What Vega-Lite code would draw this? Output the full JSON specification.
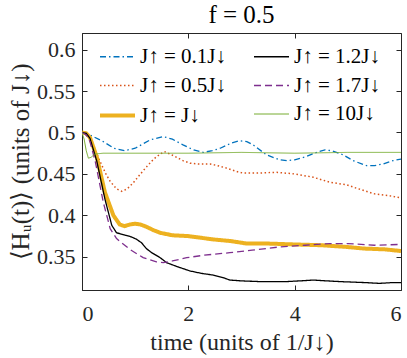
{
  "$schema": "https://vega.github.io/schema/vega-lite/v6.json",
  "width": 319,
  "height": 257,
  "autosize": "none",
  "padding": {"left": 82, "top": 33, "right": 6, "bottom": 68},
  "background": "white",
  "title": {"text": "f = 0.5", "font": "Liberation Serif", "fontSize": 25, "fontWeight": "normal", "color": "#000000", "offset": 5, "anchor": "middle"},
  "config": {
    "view": {"stroke": "#262626", "strokeWidth": 1},
    "axis": {"domainColor": "#262626", "tickColor": "#262626", "labelColor": "#262626", "titleColor": "#262626", "labelFont": "Liberation Serif", "titleFont": "Liberation Serif", "labelFontSize": 22, "titleFontWeight": "normal", "grid": false, "tickSize": -5, "labelPadding": 12}
  },
  "data": {"values": [
    {"s":"J↑ = 0.1J↓","t":0,"v":0.5},{"s":"J↑ = 0.1J↓","t":0.15,"v":0.497},{"s":"J↑ = 0.1J↓","t":0.4,"v":0.489},{"s":"J↑ = 0.1J↓","t":0.6,"v":0.481},{"s":"J↑ = 0.1J↓","t":0.8,"v":0.478},{"s":"J↑ = 0.1J↓","t":1.0,"v":0.481},{"s":"J↑ = 0.1J↓","t":1.28,"v":0.491},{"s":"J↑ = 0.1J↓","t":1.53,"v":0.495},{"s":"J↑ = 0.1J↓","t":1.7,"v":0.492},{"s":"J↑ = 0.1J↓","t":1.9,"v":0.485},{"s":"J↑ = 0.1J↓","t":2.1,"v":0.479},{"s":"J↑ = 0.1J↓","t":2.28,"v":0.476},{"s":"J↑ = 0.1J↓","t":2.45,"v":0.478},{"s":"J↑ = 0.1J↓","t":2.6,"v":0.481},{"s":"J↑ = 0.1J↓","t":2.8,"v":0.487},{"s":"J↑ = 0.1J↓","t":2.96,"v":0.49},{"s":"J↑ = 0.1J↓","t":3.1,"v":0.489},{"s":"J↑ = 0.1J↓","t":3.22,"v":0.485},{"s":"J↑ = 0.1J↓","t":3.47,"v":0.473},{"s":"J↑ = 0.1J↓","t":3.72,"v":0.467},{"s":"J↑ = 0.1J↓","t":3.85,"v":0.466},{"s":"J↑ = 0.1J↓","t":4.0,"v":0.467},{"s":"J↑ = 0.1J↓","t":4.22,"v":0.471},{"s":"J↑ = 0.1J↓","t":4.45,"v":0.477},{"s":"J↑ = 0.1J↓","t":4.57,"v":0.479},{"s":"J↑ = 0.1J↓","t":4.7,"v":0.478},{"s":"J↑ = 0.1J↓","t":4.91,"v":0.473},{"s":"J↑ = 0.1J↓","t":5.1,"v":0.466},{"s":"J↑ = 0.1J↓","t":5.35,"v":0.46},{"s":"J↑ = 0.1J↓","t":5.5,"v":0.46},{"s":"J↑ = 0.1J↓","t":5.66,"v":0.462},{"s":"J↑ = 0.1J↓","t":5.85,"v":0.466},{"s":"J↑ = 0.1J↓","t":6,"v":0.468},
    {"s":"J↑ = 0.5J↓","t":0,"v":0.5},{"s":"J↑ = 0.5J↓","t":0.1,"v":0.496},{"s":"J↑ = 0.5J↓","t":0.21,"v":0.485},{"s":"J↑ = 0.5J↓","t":0.34,"v":0.465},{"s":"J↑ = 0.5J↓","t":0.45,"v":0.45},{"s":"J↑ = 0.5J↓","t":0.53,"v":0.441},{"s":"J↑ = 0.5J↓","t":0.65,"v":0.432},{"s":"J↑ = 0.5J↓","t":0.75,"v":0.429},{"s":"J↑ = 0.5J↓","t":0.85,"v":0.432},{"s":"J↑ = 0.5J↓","t":0.96,"v":0.439},{"s":"J↑ = 0.5J↓","t":1.1,"v":0.45},{"s":"J↑ = 0.5J↓","t":1.22,"v":0.459},{"s":"J↑ = 0.5J↓","t":1.35,"v":0.468},{"s":"J↑ = 0.5J↓","t":1.47,"v":0.474},{"s":"J↑ = 0.5J↓","t":1.55,"v":0.477},{"s":"J↑ = 0.5J↓","t":1.72,"v":0.472},{"s":"J↑ = 0.5J↓","t":1.9,"v":0.466},{"s":"J↑ = 0.5J↓","t":2.03,"v":0.463},{"s":"J↑ = 0.5J↓","t":2.2,"v":0.462},{"s":"J↑ = 0.5J↓","t":2.41,"v":0.462},{"s":"J↑ = 0.5J↓","t":2.55,"v":0.46},{"s":"J↑ = 0.5J↓","t":2.72,"v":0.457},{"s":"J↑ = 0.5J↓","t":2.9,"v":0.453},{"s":"J↑ = 0.5J↓","t":3.03,"v":0.451},{"s":"J↑ = 0.5J↓","t":3.3,"v":0.451},{"s":"J↑ = 0.5J↓","t":3.66,"v":0.452},{"s":"J↑ = 0.5J↓","t":4.0,"v":0.45},{"s":"J↑ = 0.5J↓","t":4.35,"v":0.446},{"s":"J↑ = 0.5J↓","t":4.66,"v":0.44},{"s":"J↑ = 0.5J↓","t":4.97,"v":0.437},{"s":"J↑ = 0.5J↓","t":5.2,"v":0.432},{"s":"J↑ = 0.5J↓","t":5.5,"v":0.426},{"s":"J↑ = 0.5J↓","t":5.75,"v":0.424},{"s":"J↑ = 0.5J↓","t":6,"v":0.421},
    {"s":"J↑ = J↓","t":0,"v":0.5},{"s":"J↑ = J↓","t":0.08,"v":0.499},{"s":"J↑ = J↓","t":0.15,"v":0.494},{"s":"J↑ = J↓","t":0.28,"v":0.47},{"s":"J↑ = J↓","t":0.43,"v":0.428},{"s":"J↑ = J↓","t":0.59,"v":0.4},{"s":"J↑ = J↓","t":0.71,"v":0.389},{"s":"J↑ = J↓","t":0.8,"v":0.387},{"s":"J↑ = J↓","t":0.9,"v":0.389},{"s":"J↑ = J↓","t":1.0,"v":0.39},{"s":"J↑ = J↓","t":1.1,"v":0.389},{"s":"J↑ = J↓","t":1.22,"v":0.386},{"s":"J↑ = J↓","t":1.35,"v":0.382},{"s":"J↑ = J↓","t":1.47,"v":0.379},{"s":"J↑ = J↓","t":1.7,"v":0.376},{"s":"J↑ = J↓","t":2.0,"v":0.375},{"s":"J↑ = J↓","t":2.47,"v":0.371},{"s":"J↑ = J↓","t":2.8,"v":0.369},{"s":"J↑ = J↓","t":3.1,"v":0.366},{"s":"J↑ = J↓","t":3.5,"v":0.366},{"s":"J↑ = J↓","t":3.97,"v":0.365},{"s":"J↑ = J↓","t":4.5,"v":0.364},{"s":"J↑ = J↓","t":4.97,"v":0.362},{"s":"J↑ = J↓","t":5.3,"v":0.36},{"s":"J↑ = J↓","t":5.7,"v":0.359},{"s":"J↑ = J↓","t":6,"v":0.357},
    {"s":"J↑ = 1.2J↓","t":0,"v":0.5},{"s":"J↑ = 1.2J↓","t":0.08,"v":0.499},{"s":"J↑ = 1.2J↓","t":0.15,"v":0.493},{"s":"J↑ = 1.2J↓","t":0.28,"v":0.465},{"s":"J↑ = 1.2J↓","t":0.43,"v":0.42},{"s":"J↑ = 1.2J↓","t":0.56,"v":0.388},{"s":"J↑ = 1.2J↓","t":0.65,"v":0.379},{"s":"J↑ = 1.2J↓","t":0.71,"v":0.378},{"s":"J↑ = 1.2J↓","t":0.82,"v":0.376},{"s":"J↑ = 1.2J↓","t":0.93,"v":0.374},{"s":"J↑ = 1.2J↓","t":1.03,"v":0.371},{"s":"J↑ = 1.2J↓","t":1.12,"v":0.367},{"s":"J↑ = 1.2J↓","t":1.21,"v":0.36},{"s":"J↑ = 1.2J↓","t":1.31,"v":0.355},{"s":"J↑ = 1.2J↓","t":1.47,"v":0.349},{"s":"J↑ = 1.2J↓","t":1.59,"v":0.343},{"s":"J↑ = 1.2J↓","t":1.8,"v":0.338},{"s":"J↑ = 1.2J↓","t":2.03,"v":0.333},{"s":"J↑ = 1.2J↓","t":2.25,"v":0.33},{"s":"J↑ = 1.2J↓","t":2.47,"v":0.328},{"s":"J↑ = 1.2J↓","t":2.65,"v":0.325},{"s":"J↑ = 1.2J↓","t":2.78,"v":0.322},{"s":"J↑ = 1.2J↓","t":3.0,"v":0.321},{"s":"J↑ = 1.2J↓","t":3.4,"v":0.32},{"s":"J↑ = 1.2J↓","t":3.8,"v":0.32},{"s":"J↑ = 1.2J↓","t":4.1,"v":0.321},{"s":"J↑ = 1.2J↓","t":4.35,"v":0.322},{"s":"J↑ = 1.2J↓","t":4.6,"v":0.321},{"s":"J↑ = 1.2J↓","t":4.9,"v":0.32},{"s":"J↑ = 1.2J↓","t":5.3,"v":0.319},{"s":"J↑ = 1.2J↓","t":5.6,"v":0.318},{"s":"J↑ = 1.2J↓","t":5.85,"v":0.319},{"s":"J↑ = 1.2J↓","t":6,"v":0.319},
    {"s":"J↑ = 1.7J↓","t":0,"v":0.5},{"s":"J↑ = 1.7J↓","t":0.08,"v":0.497},{"s":"J↑ = 1.7J↓","t":0.15,"v":0.489},{"s":"J↑ = 1.7J↓","t":0.25,"v":0.465},{"s":"J↑ = 1.7J↓","t":0.4,"v":0.416},{"s":"J↑ = 1.7J↓","t":0.53,"v":0.384},{"s":"J↑ = 1.7J↓","t":0.65,"v":0.372},{"s":"J↑ = 1.7J↓","t":0.9,"v":0.359},{"s":"J↑ = 1.7J↓","t":1.15,"v":0.349},{"s":"J↑ = 1.7J↓","t":1.4,"v":0.344},{"s":"J↑ = 1.7J↓","t":1.53,"v":0.343},{"s":"J↑ = 1.7J↓","t":1.7,"v":0.345},{"s":"J↑ = 1.7J↓","t":1.97,"v":0.349},{"s":"J↑ = 1.7J↓","t":2.3,"v":0.352},{"s":"J↑ = 1.7J↓","t":2.78,"v":0.355},{"s":"J↑ = 1.7J↓","t":3.2,"v":0.358},{"s":"J↑ = 1.7J↓","t":3.72,"v":0.362},{"s":"J↑ = 1.7J↓","t":4.2,"v":0.364},{"s":"J↑ = 1.7J↓","t":4.66,"v":0.366},{"s":"J↑ = 1.7J↓","t":5.0,"v":0.366},{"s":"J↑ = 1.7J↓","t":5.5,"v":0.364},{"s":"J↑ = 1.7J↓","t":6,"v":0.365},
    {"s":"J↑ = 10J↓","t":0,"v":0.5},{"s":"J↑ = 10J↓","t":0.04,"v":0.492},{"s":"J↑ = 10J↓","t":0.08,"v":0.478},{"s":"J↑ = 10J↓","t":0.12,"v":0.469},{"s":"J↑ = 10J↓","t":0.17,"v":0.47},{"s":"J↑ = 10J↓","t":0.24,"v":0.474},{"s":"J↑ = 10J↓","t":0.4,"v":0.475},{"s":"J↑ = 10J↓","t":1.0,"v":0.475},{"s":"J↑ = 10J↓","t":2.0,"v":0.475},{"s":"J↑ = 10J↓","t":3.0,"v":0.476},{"s":"J↑ = 10J↓","t":4.0,"v":0.475},{"s":"J↑ = 10J↓","t":5.0,"v":0.476},{"s":"J↑ = 10J↓","t":6,"v":0.476}
  ]},
  "layer": [
    {
      "mark": {"type": "line", "clip": true},
      "encoding": {
        "x": {"field": "t", "type": "quantitative", "scale": {"domain": [0, 6], "nice": false, "zero": false}, "axis": {"values": [0, 2, 4, 6], "title": "time (units of 1/J↓)", "titleFontSize": 24, "titlePadding": 6, "labelPadding": 18}},
        "y": {"field": "v", "type": "quantitative", "scale": {"domain": [0.31, 0.62], "nice": false, "zero": false}, "axis": {"values": [0.35, 0.4, 0.45, 0.5, 0.55, 0.6], "format": ".2~f", "title": "⟨Hᵤ(t)⟩ (units of J↓)", "titleFontSize": 25, "titlePadding": 3}},
        "color": {"field": "s", "type": "nominal", "scale": {"domain": ["J↑ = 0.1J↓", "J↑ = 0.5J↓", "J↑ = J↓", "J↑ = 1.2J↓", "J↑ = 1.7J↓", "J↑ = 10J↓"], "range": ["#0072BD", "#D95319", "#EDB120", "#000000", "#7E2F8E", "#77AC30"]},
          "legend": {"orient": "none", "legendX": 16, "legendY": 5, "columns": 2, "title": null, "symbolType": "stroke", "symbolSize": 1225, "labelFont": "Liberation Serif", "labelFontSize": 21, "labelColor": "#000000", "labelOffset": 3, "columnPadding": 25, "rowPadding": 0, "padding": 0}},
        "strokeDash": {"field": "s", "type": "nominal", "scale": {"type": "ordinal", "domain": ["J↑ = 0.1J↓", "J↑ = 0.5J↓", "J↑ = J↓", "J↑ = 1.2J↓", "J↑ = 1.7J↓", "J↑ = 10J↓"], "range": [[6, 3, 1.5, 3], [1.5, 2.5], [1, 0], [1, 0], [7, 4], [1, 0]]}},
        "strokeWidth": {"field": "s", "type": "nominal", "scale": {"type": "ordinal", "domain": ["J↑ = 0.1J↓", "J↑ = 0.5J↓", "J↑ = J↓", "J↑ = 1.2J↓", "J↑ = 1.7J↓", "J↑ = 10J↓"], "range": [1.3, 1.5, 4, 1.3, 1.3, 1]}}
      }
    },
    {
      "mark": {"type": "line", "opacity": 0},
      "encoding": {
        "x": {"field": "t", "type": "quantitative", "axis": {"orient": "top", "values": [0, 2, 4, 6], "labels": false, "title": null, "domain": false}},
        "y": {"field": "v", "type": "quantitative", "axis": {"orient": "right", "values": [0.35, 0.4, 0.45, 0.5, 0.55, 0.6], "labels": false, "title": null, "domain": false}},
        "detail": {"field": "s"}
      }
    }
  ],
  "resolve": {"axis": {"x": "independent", "y": "independent"}}
}
